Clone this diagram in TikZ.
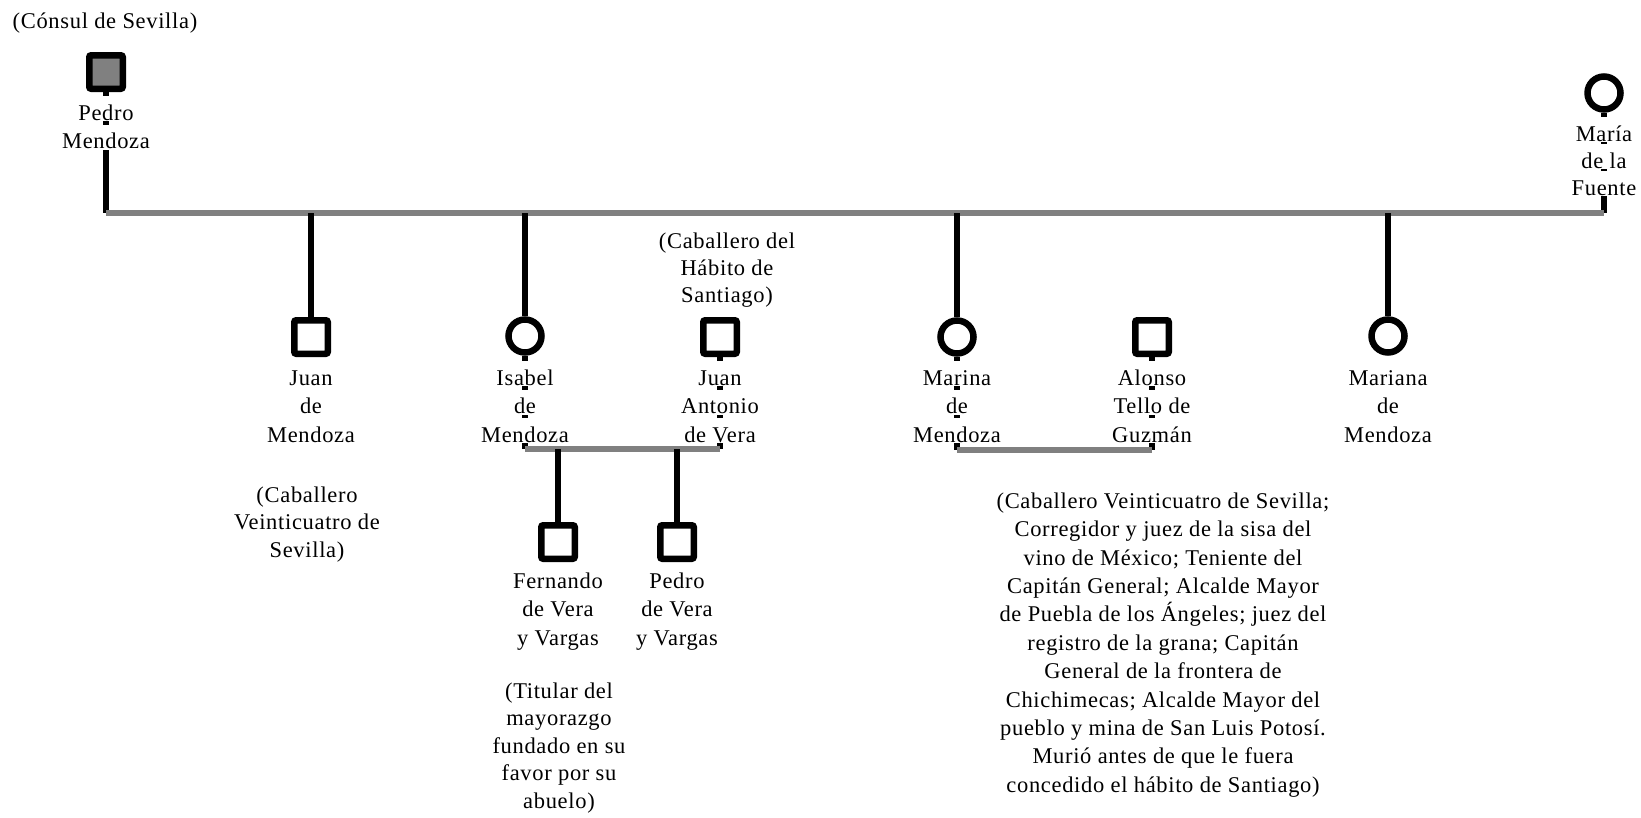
\documentclass[tikz,border=0pt]{standalone}
\usepackage{fontspec}
\setmainfont{Liberation Serif}[LetterSpace=3]
\definecolor{lineg}{HTML}{808080}
% one text line of fixed height; \wbox also blanks out the lines behind it
\newcommand\ntl[1]{\rule[-1pt]{0pt}{25pt}\smash{#1}}
\newcommand\wbox[1]{{\setlength\fboxsep{0pt}\colorbox{white}{\rule[-1pt]{0pt}{25pt}\smash{#1}}}}
\newcommand\txtsize[1]{\fontsize{22.5}{#1}\selectfont}
\begin{document}
\begin{tikzpicture}[x=1pt,y=-1pt,
  male/.style={draw, line width=6.5pt, rectangle, rounded corners=2pt, minimum size=33.5pt, inner sep=0pt},
  female/.style={draw, line width=6.5pt, circle, minimum size=33pt, inner sep=0pt},
  lbl/.style={anchor=north, inner sep=0pt, align=center, font=\txtsize{28.5}},
  note/.style={anchor=north, inner sep=0pt, align=center, font=\txtsize{27.5}},
  kin/.style={line width=6.5pt, black},
  union/.style={line width=5.5pt, lineg}]
\useasboundingbox (0,0) rectangle (1641,817);

% persons
\node[male, fill=lineg] (pedro) at (106,72) {};
\node[female] (maria) at (1604,93) {};
\node[male] (juan) at (311,337) {};
\node[female] (isabel) at (525,336) {};
\node[male] (juanant) at (720,337) {};
\node[female] (marina) at (957,337) {};
\node[male] (alonso) at (1152,337) {};
\node[female] (mariana) at (1388,336) {};
\node[male] (fernando) at (558,542) {};
\node[male] (pedrov) at (677,542) {};

% marriage and descent lines
\coordinate (mainL) at (106,213);
\coordinate (mainR) at (1604,213);
\coordinate (u1) at (622,449);
\coordinate (u2) at (1054,450);
\draw[kin] (pedro.south) -- (mainL);
\draw[kin] (maria.south) -- (mainR);
\draw[union] (mainL) -- (mainR);
\foreach \c in {juan, isabel, marina, mariana}
  \draw[kin] (\c |- mainL) -- (\c.north);
\draw[kin] (isabel.south) -- (isabel |- u1);
\draw[kin] (juanant.south) -- (juanant |- u1);
\draw[kin] (marina.south) -- (marina |- u2);
\draw[kin] (alonso.south) -- (alonso |- u2);
\draw[union] (isabel |- u1) -- (juanant |- u1);
\draw[union] (marina |- u2) -- (alonso |- u2);
\draw[kin] (fernando |- u1) -- (fernando.north);
\draw[kin] (pedrov |- u1) -- (pedrov.north);

% names
\node[lbl] (pedroT) at (106,96) {\wbox{Pedro}\\\wbox{Mendoza}};
\node[lbl, font=\txtsize{27}] (mariaT) at (1604,117) {\wbox{María}\\\wbox{de la}\\\wbox{Fuente}};
\node[lbl] (juanT) at (311,361) {\wbox{Juan}\\\wbox{de}\\\wbox{Mendoza}};
\node[lbl] (isabelT) at (525,361) {\wbox{Isabel}\\\wbox{de}\\\wbox{Mendoza}};
\node[lbl] (juanantT) at (720,361) {\wbox{Juan}\\\wbox{Antonio}\\\wbox{de Vera}};
\node[lbl] (marinaT) at (957,361) {\wbox{Marina}\\\wbox{de}\\\wbox{Mendoza}};
\node[lbl] (alonsoT) at (1152,361) {\wbox{Alonso}\\\wbox{Tello de}\\\wbox{Guzmán}};
\node[lbl] (marianaT) at (1388,361) {\wbox{Mariana}\\\wbox{de}\\\wbox{Mendoza}};
\node[lbl] (fernandoT) at (558,564) {\wbox{Fernando}\\\wbox{de Vera}\\\wbox{y Vargas}};
\node[lbl] (pedrovT) at (677,564) {\wbox{Pedro}\\\wbox{de Vera}\\\wbox{y Vargas}};

% notes
\node[note] (pedroN) at (105,4) {\ntl{(Cónsul de Sevilla)}};
\node[note] (juanN) at (307,478) {\ntl{(Caballero}\\\ntl{Veinticuatro de}\\\ntl{Sevilla)}};
\node[note, font=\txtsize{27}] (juanantN) at (727,224) {\ntl{(Caballero del}\\\ntl{Hábito de}\\\ntl{Santiago)}};
\node[note] (fernandoN) at (559,674) {\ntl{(Titular del}\\\ntl{mayorazgo}\\\ntl{fundado en su}\\\ntl{favor por su}\\\ntl{abuelo)}};
\node[note, font=\txtsize{28.4}] (alonsoN) at (1163,484) {\ntl{(Caballero Veinticuatro de Sevilla;}\\
  \ntl{Corregidor y juez de la sisa del}\\
  \ntl{vino de México; Teniente del}\\
  \ntl{Capitán General; Alcalde Mayor}\\
  \ntl{de Puebla de los Ángeles; juez del}\\
  \ntl{registro de la grana; Capitán}\\
  \ntl{General de la frontera de}\\
  \ntl{Chichimecas; Alcalde Mayor del}\\
  \ntl{pueblo y mina de San Luis Potosí.}\\
  \ntl{Murió antes de que le fuera}\\
  \ntl{concedido el hábito de Santiago)}};
\end{tikzpicture}
\end{document}
